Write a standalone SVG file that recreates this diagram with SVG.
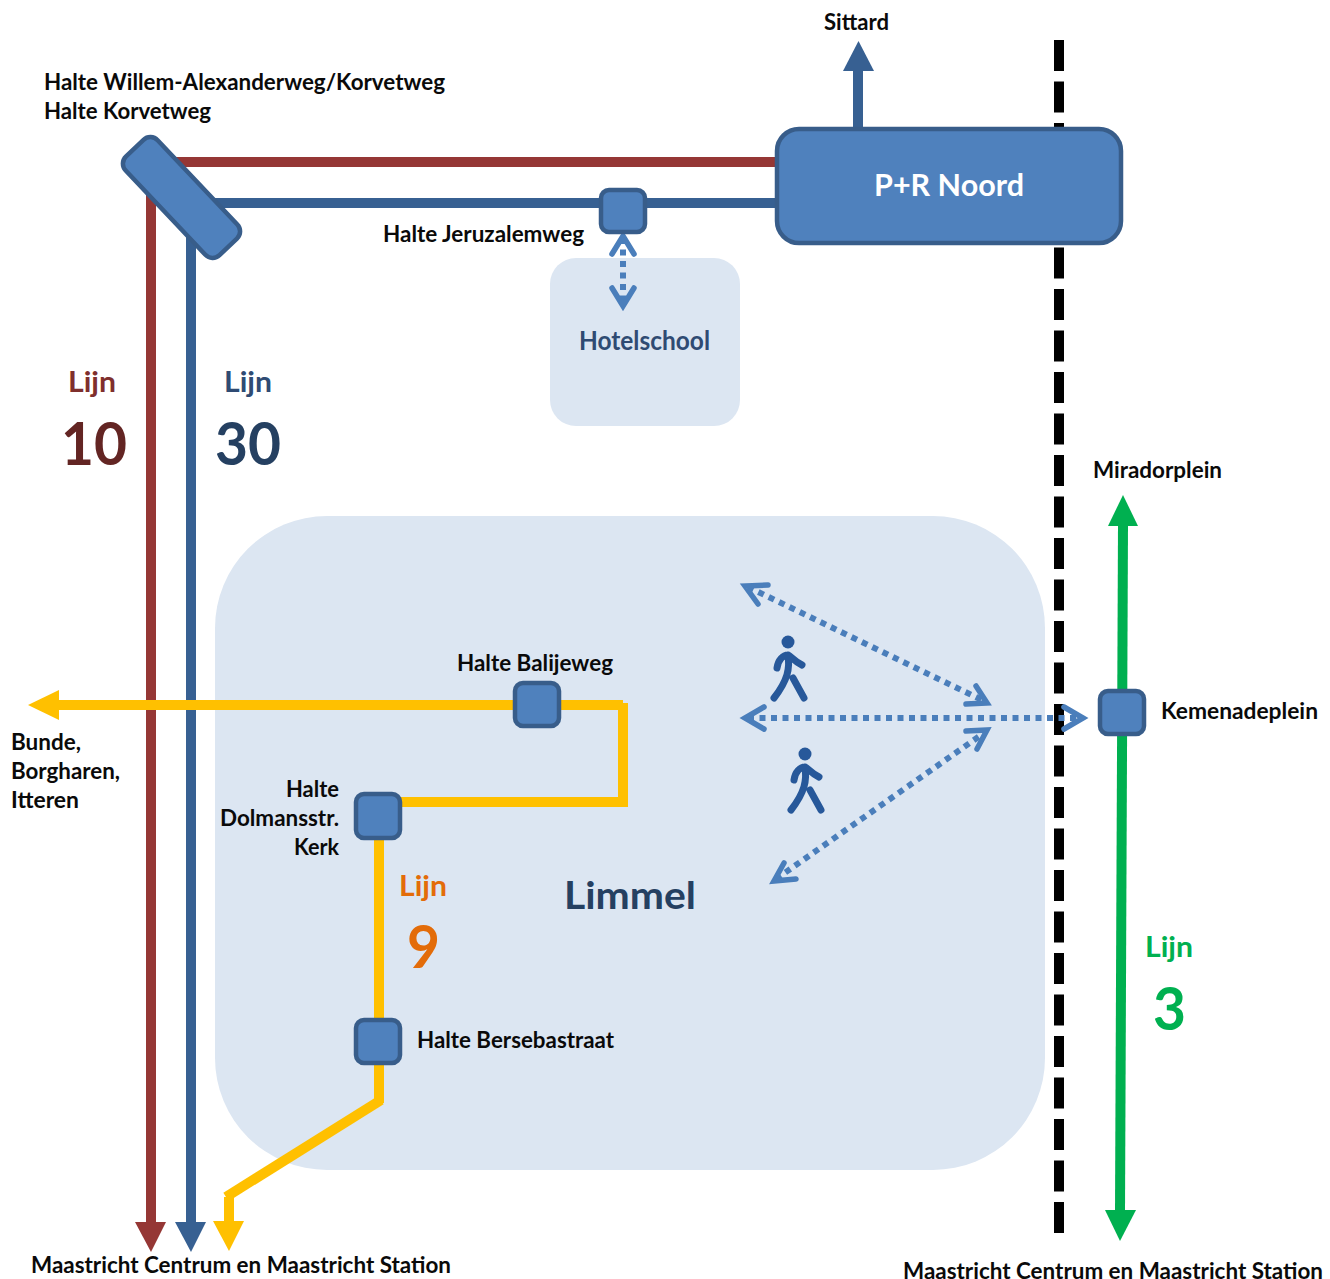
<svg xmlns="http://www.w3.org/2000/svg" width="1330" height="1279" viewBox="0 0 1330 1279">
<style>
text{font-family:"Lato","Open Sans","Liberation Sans",sans-serif;font-weight:700;fill:#0a0a0a}
.l{font-size:23px}
.stop{fill:#4f81bd;stroke:#385d8a;stroke-width:4.5}
.area{fill:#dce6f2}
.red{fill:none;stroke:#953735;stroke-width:10}
.blue{fill:none;stroke:#376092;stroke-width:10}
.yel{fill:none;stroke:#ffc000;stroke-width:10}
.grn{fill:none;stroke:#00b050;stroke-width:10}
.dot{fill:none;stroke:#4a7ebb;stroke-width:6;stroke-dasharray:6 5.5}
.head{fill:none;stroke:#4a7ebb;stroke-width:5.5;stroke-linecap:round;stroke-linejoin:miter}
.ped{fill:none;stroke:#27589a;stroke-width:7;stroke-linecap:round;stroke-linejoin:round}
</style>
<rect width="1330" height="1279" fill="#fff"/>
<g id="area-hotelschool"><rect class="area" x="550" y="258" width="190" height="168" rx="26"/></g>
<g id="area-limmel"><rect class="area" x="215" y="516" width="830" height="654" rx="112"/></g>
<g id="connectors">
<path d="M1059 40V1234" fill="none" stroke="#000" stroke-width="10" stroke-dasharray="31 10.5"/>
<path class="red" d="M170 162H780M151 180V1224"/>
<path fill="#953735" d="M135 1222H166L151 1252Z"/>
<path class="blue" d="M210 203H780M191 235V1224"/>
<path fill="#376092" d="M175 1222H206L191 1252Z"/>
<path class="blue" d="M858 130V70"/>
<path fill="#376092" d="M843 71H874L858.500 41Z"/>
<path class="yel" d="M58 705H518M556 705H623M623 703V807M398 802H628M379 836V1103"/>
<path class="yel" d="M381 1100L226 1197"/>
<path class="yel" d="M229 1197V1224"/>
<path fill="#ffc000" d="M59 690V720L28 705Z"/>
<path fill="#ffc000" d="M213 1221H244L229 1251Z"/>
<path class="grn" d="M1123 524L1120 1212"/>
<path fill="#00b050" d="M1108 526H1138L1123 495Z"/>
<path fill="#00b050" d="M1105 1210H1136L1120 1241Z"/>
<path class="dot" d="M623 238V304"/>
<path class="head" d="M612 254L623 236L634 254M612 288L623 306L634 288"/>
<path class="dot" d="M748 587L984 701"/>
<path class="head" d="M768 585L745 586L758 604M976 686L987 703L966 704"/>
<path class="dot" d="M748 718H1082"/>
<path class="head" d="M764 707L745 718L764 729M1064 707L1083 718L1064 729"/>
<path class="dot" d="M776 879L984 733"/>
<path class="head" d="M966 731L987 730L977 749M784 863L774 881L796 879"/>
</g>
<g id="ped-1"><circle cx="788" cy="642" r="6.500" fill="#27589a"/><path class="ped" d="M777 668C778 660 783 655 788 655C791 656 794 661 802 665M788 655C790 668 788 680 774 698M793 678L804 698"/></g>
<g id="ped-2"><circle cx="805" cy="754" r="6.500" fill="#27589a"/><path class="ped" d="M794 780C795 772 800 767 805 767C808 768 811 773 819 777M805 767C807 780 805 792 791 810M810 790L821 810"/></g>
<g id="stop-korvetweg"><rect class="stop" x="113.500" y="175.500" width="136" height="44" rx="10" transform="rotate(46.600 181.500 197.500)"/></g>
<g id="pr-noord"><rect class="stop" x="777" y="129" width="344" height="114" rx="22"/><text x="949" y="196" text-anchor="middle" font-size="30" style="fill:#fff" textLength="150" lengthAdjust="spacingAndGlyphs">P+R Noord</text></g>
<g id="stop-jeruzalemweg"><rect class="stop" x="601" y="190" width="44" height="42" rx="8"/></g>
<g id="stop-balijeweg"><rect class="stop" x="515" y="683" width="44" height="43" rx="8"/></g>
<g id="stop-dolmansstr"><rect class="stop" x="356" y="794" width="44" height="44" rx="8"/></g>
<g id="stop-bersebastraat"><rect class="stop" x="356" y="1020" width="44" height="43" rx="8"/></g>
<g id="stop-kemenadeplein"><rect class="stop" x="1100" y="691" width="44" height="43" rx="8"/></g>
<g id="labels">
<text class="l" x="824" y="30" textLength="65" lengthAdjust="spacingAndGlyphs">Sittard</text>
<text class="l" x="44" y="90" textLength="401" lengthAdjust="spacingAndGlyphs">Halte Willem-Alexanderweg/Korvetweg</text>
<text class="l" x="44" y="119" textLength="167" lengthAdjust="spacingAndGlyphs">Halte Korvetweg</text>
<text class="l" x="383" y="242" textLength="201" lengthAdjust="spacingAndGlyphs">Halte Jeruzalemweg</text>
<text x="579" y="350" font-size="26" style="fill:#2f4b73" textLength="131" lengthAdjust="spacingAndGlyphs">Hotelschool</text>
<text x="68" y="392" font-size="29" style="fill:#7f2f2d" textLength="48" lengthAdjust="spacingAndGlyphs">Lijn</text>
<text x="61" y="465" font-size="60" style="fill:#632523" textLength="66" lengthAdjust="spacingAndGlyphs">10</text>
<text x="224" y="392" font-size="29" style="fill:#2f4b73" textLength="48" lengthAdjust="spacingAndGlyphs">Lijn</text>
<text x="215" y="465" font-size="60" style="fill:#254061" textLength="66" lengthAdjust="spacingAndGlyphs">30</text>
<text class="l" x="1093" y="478" textLength="129" lengthAdjust="spacingAndGlyphs">Miradorplein</text>
<text class="l" x="457" y="671" textLength="156" lengthAdjust="spacingAndGlyphs">Halte Balijeweg</text>
<text class="l" x="1161" y="719" textLength="157" lengthAdjust="spacingAndGlyphs">Kemenadeplein</text>
<text class="l" x="11" y="750" textLength="70" lengthAdjust="spacingAndGlyphs">Bunde,</text>
<text class="l" x="11" y="779" textLength="109" lengthAdjust="spacingAndGlyphs">Borgharen,</text>
<text class="l" x="11" y="808" textLength="68" lengthAdjust="spacingAndGlyphs">Itteren</text>
<text class="l" x="339" y="797" text-anchor="end" textLength="53" lengthAdjust="spacingAndGlyphs">Halte</text>
<text class="l" x="339" y="826" text-anchor="end" textLength="119" lengthAdjust="spacingAndGlyphs">Dolmansstr.</text>
<text class="l" x="339" y="855" text-anchor="end" textLength="45" lengthAdjust="spacingAndGlyphs">Kerk</text>
<text x="399" y="896" font-size="29" style="fill:#e36c09" textLength="48" lengthAdjust="spacingAndGlyphs">Lijn</text>
<text x="407" y="968" font-size="60" style="fill:#e36c09" textLength="33" lengthAdjust="spacingAndGlyphs">9</text>
<text x="564" y="909" font-size="38" style="fill:#254061" textLength="132" lengthAdjust="spacingAndGlyphs">Limmel</text>
<text x="1145" y="957" font-size="29" style="fill:#00b050" textLength="48" lengthAdjust="spacingAndGlyphs">Lijn</text>
<text x="1153" y="1030" font-size="60" style="fill:#00b050" textLength="33" lengthAdjust="spacingAndGlyphs">3</text>
<text class="l" x="417" y="1048" textLength="197" lengthAdjust="spacingAndGlyphs">Halte Bersebastraat</text>
<text class="l" x="31" y="1273" textLength="420" lengthAdjust="spacingAndGlyphs">Maastricht Centrum en Maastricht Station</text>
<text class="l" x="903" y="1279" textLength="420" lengthAdjust="spacingAndGlyphs">Maastricht Centrum en Maastricht Station</text>
</g>
</svg>
